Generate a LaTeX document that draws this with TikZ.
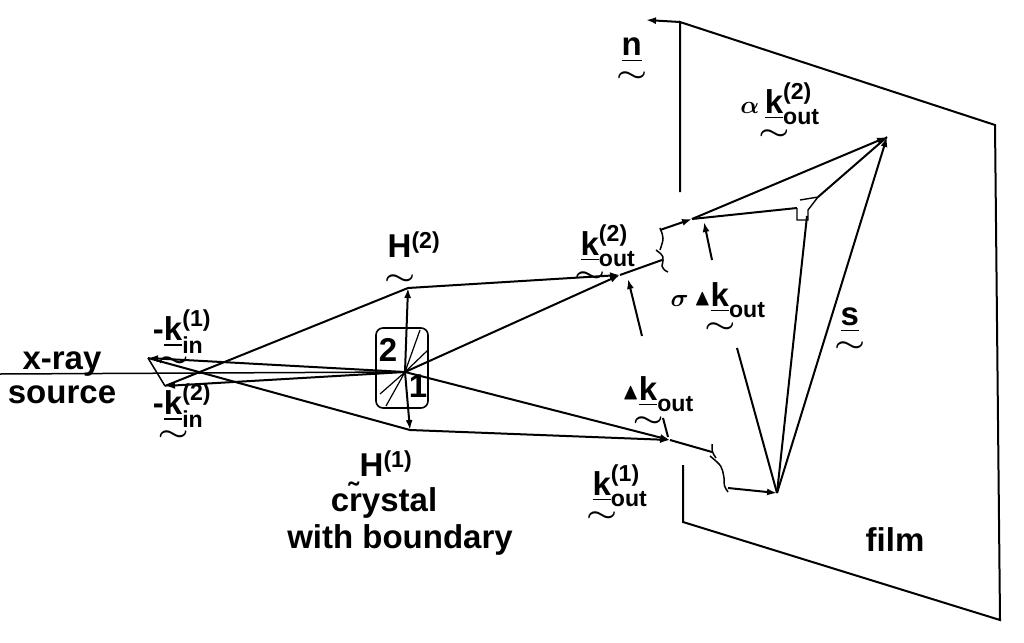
\documentclass[tikz,border=0pt]{standalone}
\usepackage{amsmath,amssymb,bm}
\usepackage{fontspec}
\setmainfont{Liberation Sans}
\usetikzlibrary{arrows.meta}
\newcommand{\tl}{\scalebox{1.4}[1]{$\bm\sim$}}
\newcommand{\kv}[4]{\setbox0\hbox{#4{#1}}\rlap{\raisebox{-0.8em}[0pt][0pt]{\hbox to\wd0{\hss\tl\hss}}}\box0\ensuremath{\vphantom{\text{#1}}^{\textbf{#2}}_{\textbf{#3}}}}
\newcommand{\tri}{\raisebox{1pt}{\scalebox{0.7}{$\blacktriangle$}}}
\begin{document}
\begin{tikzpicture}[x=1pt,y=-1pt,line width=2pt,
  arr/.style={-{Latex[length=10pt,width=7pt]}},
  lab/.style={font=\fontsize{33}{34}\selectfont\bfseries, inner sep=1pt}]
\useasboundingbox (0,0) rectangle (1024,642);
% film
\coordinate (F1) at (680,22); \coordinate (F2) at (995,125);
\coordinate (F3) at (1000,620); \coordinate (F4) at (683,522);
\coordinate (Fa) at (680,192); \coordinate (Fb) at (683,465);
\draw (Fa) -- (F1) -- (F2) -- (F3) -- (F4) -- (Fb);
\coordinate (N) at (646,20);
\draw[arr] (F1) -- (N);
% crystal
\coordinate (C) at (405,372);
\node[draw, rounded corners=7pt, minimum width=52pt, minimum height=80pt, line width=1.6pt] (X) at (402,368) {};
\draw[line width=1.2pt] (C) -- (420,330) (C) -- (386,406) (C) -- (428,350) (C) -- (380,394);
\coordinate (H2) at (408,288); \coordinate (H1) at (410,430);
\draw[arr] (C) -- (H2);
\draw[arr] (C) -- (H1);
% source
\coordinate (Sa) at (148,358); \coordinate (Sb) at (165,386);
\coordinate (L) at (0,374);
\draw[line width=1.5pt] (L) -- (C);
\draw[arr] (C) -- (Sa);
\draw[arr] (C) -- (Sb);
\draw[line width=1.5pt] (Sa) -- (Sb);
\draw (Sa) -- (H1);
\draw (Sb) -- (H2);
% outgoing upper
\coordinate (K2) at (620,275);
\draw[arr] (C) -- (K2);
\draw[arr] (H2) -- (K2);
\coordinate (B2) at (662,260);
\draw (K2) -- (B2);
\draw[line width=1.5pt] (656,250) .. controls (664,256) .. (662,266) .. controls (664,270) .. (668,272);
\draw[line width=1.5pt] (660,228) .. controls (664,238) .. (660,250);
\coordinate (B2b) at (660,230); \coordinate (K2b) at (692,219);
\draw[arr] (B2b) -- (K2b);
\coordinate (T) at (887,137);
\draw[arr] (K2b) -- (T);
\coordinate (Q1) at (797,208); \coordinate (Q2) at (818,197);
\draw (K2b) -- (Q1);
\draw[line width=1.4pt] (Q1) -- (797,220) -- (808,220) -- (808,210) -- (Q2) -- (800,200);
\draw (Q2) -- (T);
% lower outgoing
\coordinate (K1) at (670,440);
\draw[arr] (C) -- (K1);
\draw[arr] (H1) -- (K1);
\coordinate (B1) at (712,452);
\draw (K1) -- (B1);
\draw[line width=1.5pt] (712,444) .. controls (712,452) .. (716,458);
\draw[line width=1.5pt] (710,456) .. controls (722,466) .. (724,478) .. controls (724,486) .. (728,492);
\coordinate (B1b) at (728,488); \coordinate (P) at (777,493);
\draw[arr] (B1b) -- (P);
% vectors from P
\coordinate (Sg) at (737,348);
\draw (Sg) -- (P);
\draw (P) -- (807,216);
\draw[arr] (P) -- (T);
% small arrows
\draw[arr] (712,260) -- (704,222);
\draw[arr] (642,336) -- (628,279);
\draw (663,418) -- (668,437);
% labels
\node[lab] (ln) at (632,50) {\kv{n}{}{}{\underline}};
\node[lab] (la) at (780,104) {$\bm\alpha$\,\kv{k}{(2)}{out}{\underline}};
\node[lab] (lk2) at (608,246) {\kv{k}{(2)}{out}{\underline}};
\node[lab] (lh2) at (414,248) {\kv{H}{(2)}{}{\relax}};
\node[lab] (lki1) at (182,332) {-\kv{k}{(1)}{in}{\underline}};
\node[lab] (lki2) at (182,406) {-\kv{k}{(2)}{in}{\underline}};
\node[lab, align=center] (lsrc) at (62,378) {x-ray\\source};
\node[lab] (l2) at (388,350) {2};
\node[lab] (l1) at (418,386) {1};
\node[lab] (lsig) at (718,300) {$\bm\sigma$\,\tri\kv{k}{}{out}{\underline}};
\node[lab] (ldk) at (658,394) {\tri\kv{k}{}{out}{\underline}};
\node[lab] (ls) at (850,320) {\kv{s}{}{}{\underline}};
\node[lab] (lh1) at (386,464) {H$^{\textbf{(1)}}$};
\node[lab] (lcr) at (384,500) {c\~{r}ystal};
\node[lab] (lwb) at (400,540) {with boundary};
\node[lab] (lk1) at (620,486) {\kv{k}{(1)}{out}{\underline}};
\node[lab] (lf) at (895,540) {film};
\end{tikzpicture}
\end{document}
